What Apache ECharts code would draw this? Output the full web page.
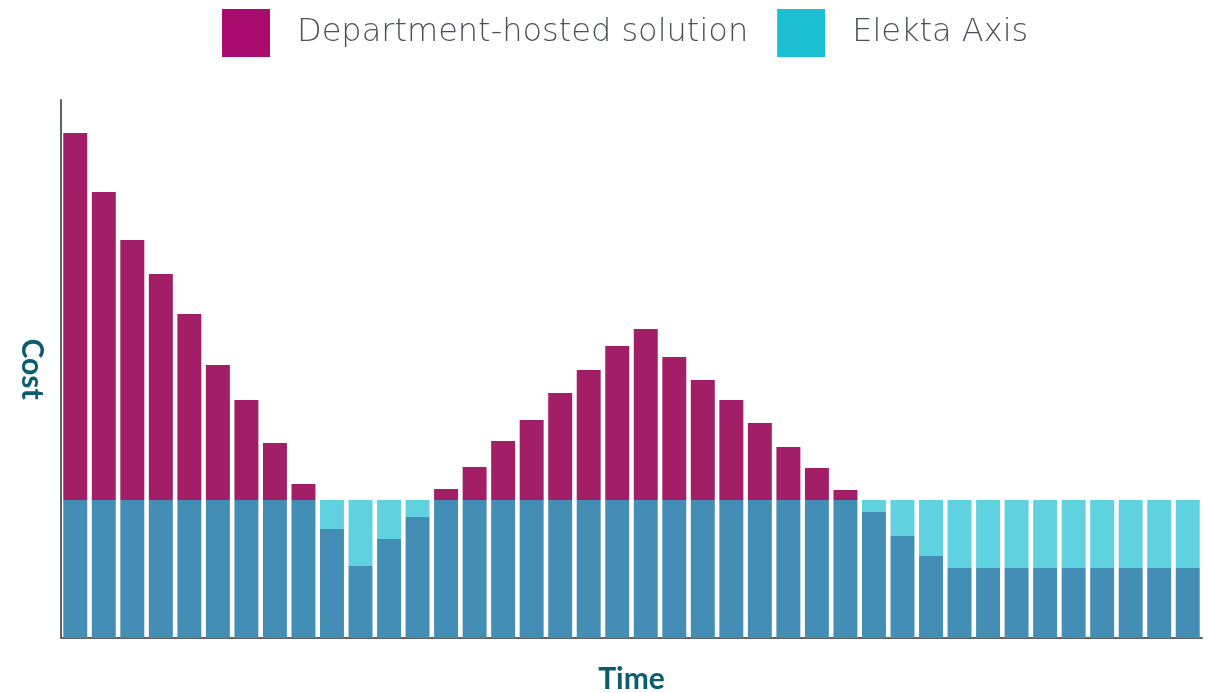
<!DOCTYPE html>
<html><head><meta charset="utf-8">
<script src="https://cdn.jsdelivr.net/npm/echarts@6/dist/echarts.min.js"></script>
<style>html,body{margin:0;padding:0;background:#fff}#c{width:1209px;height:693px}</style>
</head><body><div id="c"></div>
<script>
const categories = Array.from({length: 40}, (_, i) => 'T' + (i + 1));
const departmentHosted = [505, 446, 398, 364, 324, 273, 238, 195, 154, 109, 72, 99, 121, 149, 171, 197, 218, 245, 268, 292, 309, 281, 258, 238, 215, 191, 170, 148, 126, 102, 82, 70, 70, 70, 70, 70, 70, 70, 70, 70];
const elektaAxis = [138, 138, 138, 138, 138, 138, 138, 138, 138, 138, 138, 138, 138, 138, 138, 138, 138, 138, 138, 138, 138, 138, 138, 138, 138, 138, 138, 138, 138, 138, 138, 138, 138, 138, 138, 138, 138, 138, 138, 138];

const overlap = departmentHosted.map((d, i) => Math.min(d, elektaAxis[i]));
const deptExcess = departmentHosted.map((d, i) => Math.max(d - elektaAxis[i], 0));
const axisExcess = departmentHosted.map((d, i) => Math.max(elektaAxis[i] - d, 0));

const chart = echarts.init(document.getElementById('c'));
chart.setOption({
  animation: false,
  legend: {
    left: 217, top: 4,
    itemWidth: 48, itemHeight: 48, itemGap: 29,
    icon: 'rect',
    textStyle: { fontFamily: 'DejaVu Sans', fontWeight: 200, fontSize: 32, color: '#4b5058', padding: [0, 0, 0, 22] },
    data: [
      { name: 'Department-hosted solution', itemStyle: { color: '#AA0B6E' } },
      { name: 'Elekta Axis', itemStyle: { color: '#1CBED3' } }
    ],
    selectedMode: false
  },
  grid: { left: 61, right: 7, top: 100, bottom: 55, outerBoundsMode: 'none', containLabel: false },
  xAxis: {
    type: 'category', data: categories,
    axisTick: { show: false }, axisLabel: { show: false },
    axisLine: { lineStyle: { color: '#5d636b', width: 2 } },
    name: 'Time', nameLocation: 'middle', nameGap: 26,
    nameTextStyle: { fontFamily: 'Lato', fontWeight: 'bold', fontSize: 30, color: '#0b5c70' }
  },
  yAxis: {
    type: 'value', min: 0, max: 538,
    splitLine: { show: false }, axisTick: { show: false }, axisLabel: { show: false },
    axisLine: { show: true, lineStyle: { color: '#5d636b', width: 2 } },
    name: 'Cost', nameLocation: 'middle', nameGap: 14, nameRotate: -90,
    nameTextStyle: { fontFamily: 'Lato', fontWeight: 'bold', fontSize: 30, color: '#0b5c70' }
  },
  series: [
    { name: 'Overlap', type: 'bar', stack: 's', data: overlap, barCategoryGap: '16%',
      itemStyle: { color: '#448EB5' } },
    { name: 'Department-hosted solution', type: 'bar', stack: 's', data: deptExcess,
      itemStyle: { color: '#A21F67' } },
    { name: 'Elekta Axis', type: 'bar', stack: 's', data: axisExcess,
      itemStyle: { color: '#60D2DF' } }
  ]
});
</script></body></html>
